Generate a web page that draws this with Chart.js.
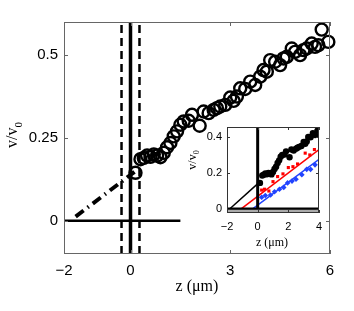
<!DOCTYPE html>
<html>
<head>
<meta charset="utf-8">
<script src="https://cdn.jsdelivr.net/npm/chart.js@4.4.1/dist/chart.umd.min.js"></script>
<style>
html, body { margin: 0; padding: 0; background: #fff; }
#wrap { position: relative; width: 354px; height: 311px; }
#wrap canvas { position: absolute; left: 0; top: 0; }
</style>
</head>
<body>
<div id="wrap">
	<canvas id="main" width="354" height="311"></canvas>
	<canvas id="inset" width="354" height="311"></canvas>
</div>
<script>
// main panel: measured velocity ratio vs height z
const zData = [0.15, 0.3, 0.4, 0.5, 0.6, 0.7, 0.8, 0.9, 1.0, 1.1, 1.2, 1.3, 1.4, 1.5, 1.6, 1.75, 1.85, 2.08, 2.2, 2.35,
	2.5, 2.6, 2.7, 2.85, 3.0, 3.1, 3.2, 3.3, 3.45, 3.6, 3.75, 3.9, 4.0, 4.1, 4.2, 4.35, 4.5, 4.6, 4.7, 4.85,
	4.95, 5.1, 5.2, 5.3, 5.45, 5.55, 5.65, 5.75, 5.95];
const vData = [0.145, 0.186, 0.19, 0.197, 0.193, 0.2, 0.197, 0.192, 0.205, 0.222, 0.235, 0.255, 0.27, 0.29, 0.3, 0.302, 0.32, 0.287, 0.33, 0.325,
	0.335, 0.34, 0.345, 0.35, 0.372, 0.362, 0.375, 0.4, 0.398, 0.42, 0.41, 0.435, 0.455, 0.45, 0.485, 0.48, 0.47, 0.49, 0.495, 0.52,
	0.51, 0.5, 0.515, 0.52, 0.535, 0.525, 0.53, 0.577, 0.54];

// extrapolated fit (dash-dot) and reference lines
const fitZ = [-1.65, 0.12];
const fitV = [0.013, 0.148];
const zeroLineZ = [-2, 1.5];
const wallZ = 0;
const wallBandZ = [-0.27, 0.27];

const mainXTicks = [-2, 0, 3, 6];
const mainYTicks = [0, 0.25, 0.5];

// inset panel
const redZ = [0.26, 0.45, 0.73, 1.0, 1.3, 1.65, 2.0, 2.3, 2.6, 3.1, 3.4, 3.7];
const redV = [0.105, 0.11, 0.1, 0.152, 0.18, 0.195, 0.23, 0.235, 0.25, 0.31, 0.3, 0.33];
const blueZ = [0.26, 0.5, 0.84, 1.1, 1.42, 1.7, 1.95, 2.24, 2.5, 2.88, 3.2, 3.45, 3.74];
const blueV = [0.065, 0.075, 0.078, 0.096, 0.11, 0.12, 0.145, 0.155, 0.165, 0.19, 0.22, 0.22, 0.245];
const blackFitZ = [-1.83, 0.1];
const blackFitV = [0, 0.148];
const redFitZ = [-1.1, 4];
const redFitV = [0, 0.33];
const blueFitZ = [-0.35, 4];
const blueFitV = [0, 0.276];

const insetXTicks = [-2, 0, 2, 4];
const insetYTicks = [0, 0.2, 0.4];

const pts = (xs, ys) => xs.map((x, i) => ({x: x, y: ys[i]}));
const fmt = v => (v < 0 ? '\u2212' + Math.abs(v) : String(v));

function line(data, width, color, dash) {
	return {
		data: data,
		showLine: true,
		pointRadius: 0,
		borderColor: color || '#000',
		borderWidth: width,
		borderDash: dash || [],
		borderCapStyle: 'butt',
		fill: false
	};
}

// frame, inward ticks and axis titles, drawn on top of each panel
function framePlugin(opt) {
	return {
		id: 'frame',
		beforeDraw(chart) {
			if (!opt.white) return;
			const a = chart.chartArea, c = chart.ctx;
			c.save();
			c.fillStyle = '#fff';
			c.fillRect(a.left, a.top, a.right - a.left, a.bottom - a.top);
			c.restore();
		},
		afterDraw(chart) {
			const a = chart.chartArea, c = chart.ctx;
			const xs = chart.scales.x, ys = chart.scales.y;
			c.save();
			c.strokeStyle = opt.frame;
			c.lineWidth = 1;
			c.strokeRect(a.left + 0.5, a.top + 0.5, a.right - a.left - 1, a.bottom - a.top - 1);
			c.beginPath();
			xs.ticks.forEach(t => {
				const px = Math.round(xs.getPixelForValue(t.value)) + 0.5;
				c.moveTo(px, a.bottom); c.lineTo(px, a.bottom - opt.tick);
				c.moveTo(px, a.top); c.lineTo(px, a.top + opt.tick);
			});
			ys.ticks.forEach(t => {
				const py = Math.round(ys.getPixelForValue(t.value)) + 0.5;
				c.moveTo(a.left, py); c.lineTo(a.left + opt.tick, py);
				c.moveTo(a.right, py); c.lineTo(a.right - opt.tick, py);
			});
			c.stroke();

			c.fillStyle = '#000';
			c.font = opt.titleSize + 'px "Liberation Serif", serif';
			c.textAlign = 'center';
			c.textBaseline = 'middle';
			c.fillText('z (\u03bcm)', opt.xTitle[0], opt.xTitle[1]);

			c.translate(opt.yTitle[0], opt.yTitle[1]);
			c.rotate(-Math.PI / 2);
			const main = 'v/v';
			const wMain = c.measureText(main).width;
			c.font = Math.round(opt.titleSize * 0.7) + 'px "Liberation Serif", serif';
			const wSub = c.measureText('0').width;
			const x0 = -(wMain + wSub) / 2;
			c.textAlign = 'left';
			c.textBaseline = 'alphabetic';
			c.font = opt.titleSize + 'px "Liberation Serif", serif';
			c.fillText(main, x0, opt.titleSize * 0.3);
			c.font = Math.round(opt.titleSize * 0.7) + 'px "Liberation Serif", serif';
			c.fillText('0', x0 + wMain, opt.titleSize * 0.3 + opt.titleSize * 0.3);
			c.restore();
		}
	};
}

function scales(o) {
	return {
		x: {
			type: 'linear',
			min: o.xMin, max: o.xMax,
			afterBuildTicks: s => { s.ticks = o.xTicks.map(v => ({value: v})); },
			afterFit: s => { s.height = o.xHeight; },
			grid: {display: false, drawTicks: false},
			border: {display: false},
			ticks: {color: '#000', font: {family: '"Liberation Sans", Arial, sans-serif', size: o.font},
				padding: o.xPad, maxRotation: 0, autoSkip: false, callback: fmt}
		},
		y: {
			type: 'linear',
			min: o.yMin, max: o.yMax,
			afterBuildTicks: s => { s.ticks = o.yTicks.map(v => ({value: v})); },
			afterFit: s => { s.width = o.yWidth; },
			grid: {display: false, drawTicks: false},
			border: {display: false},
			ticks: {color: '#000', font: {family: '"Liberation Sans", Arial, sans-serif', size: o.font},
				padding: o.yPad, autoSkip: false, callback: fmt}
		}
	};
}

const common = {
	responsive: false,
	animation: false,
	events: [],
	plugins: {legend: {display: false}, tooltip: {enabled: false}}
};

new Chart(document.getElementById('main'), {
	type: 'scatter',
	data: {
		datasets: [
			line(pts(zeroLineZ, [0, 0]), 2.5),
			line(pts([wallZ, wallZ], [-0.1, 0.6]), 3.5),
			line(pts([wallBandZ[0], wallBandZ[0]], [-0.1, 0.6]), 2.5, '#000', [8, 5]),
			line(pts([wallBandZ[1], wallBandZ[1]], [-0.1, 0.6]), 2.5, '#000', [8, 5]),
			line(pts(fitZ, fitV), 4, '#000', [10, 5, 1.5, 5]),
			{
				data: pts(zData, vData),
				pointStyle: 'circle',
				pointRadius: 6,
				pointBorderWidth: 2.4,
				pointBorderColor: '#000',
				pointBackgroundColor: 'rgba(0,0,0,0)',
				showLine: false,
				clip: false
			}
		]
	},
	options: Object.assign({}, common, {
		layout: {padding: {left: 0, right: 24, top: 22, bottom: 0}},
		scales: scales({xMin: -2, xMax: 6, yMin: -0.1, yMax: 0.6, xTicks: mainXTicks, yTicks: mainYTicks,
			xHeight: 57, yWidth: 64, font: 15, xPad: 8, yPad: 6})
	}),
	plugins: [framePlugin({frame: '#666', tick: 4, titleSize: 16, xTitle: [197, 287], yTitle: [12, 135]})]
});

const insetZ = zData.filter(z => z <= 4);
const insetV = vData.slice(0, insetZ.length);

new Chart(document.getElementById('inset'), {
	type: 'scatter',
	data: {
		datasets: [
			line(pts([-2, 4], [-0.012, -0.012]), 3, '#aaa'),
			line(pts([-2, 4], [0, 0]), 3),
			line(pts([0, 0], [-0.022, 0.455]), 3),
			line(pts(blackFitZ, blackFitV), 1.5),
			line(pts(redFitZ, redFitV), 1.5, '#ff0000'),
			line(pts(blueFitZ, blueFitV), 1.5, '#2244ff'),
			{data: pts(insetZ, insetV), pointRadius: 3.2, pointBackgroundColor: '#000', pointBorderWidth: 0},
			{data: pts(redZ, redV), pointStyle: 'rect', pointRadius: 2.2, pointBackgroundColor: '#ff0000', pointBorderWidth: 0},
			{data: pts(blueZ, blueV), pointStyle: 'rectRot', pointRadius: 2.8, pointBackgroundColor: '#2244ff', pointBorderWidth: 0}
		]
	},
	options: Object.assign({}, common, {
		layout: {padding: {left: 0, right: 35, top: 127, bottom: 0}},
		scales: scales({xMin: -2, xMax: 4, yMin: -0.022, yMax: 0.455, xTicks: insetXTicks, yTicks: insetYTicks,
			xHeight: 98, yWidth: 227, font: 11, xPad: 7, yPad: 5})
	}),
	plugins: [framePlugin({white: true, frame: '#333', tick: 3, titleSize: 12, xTitle: [272, 243], yTitle: [192, 160]})]
});
</script>
</body>
</html>
